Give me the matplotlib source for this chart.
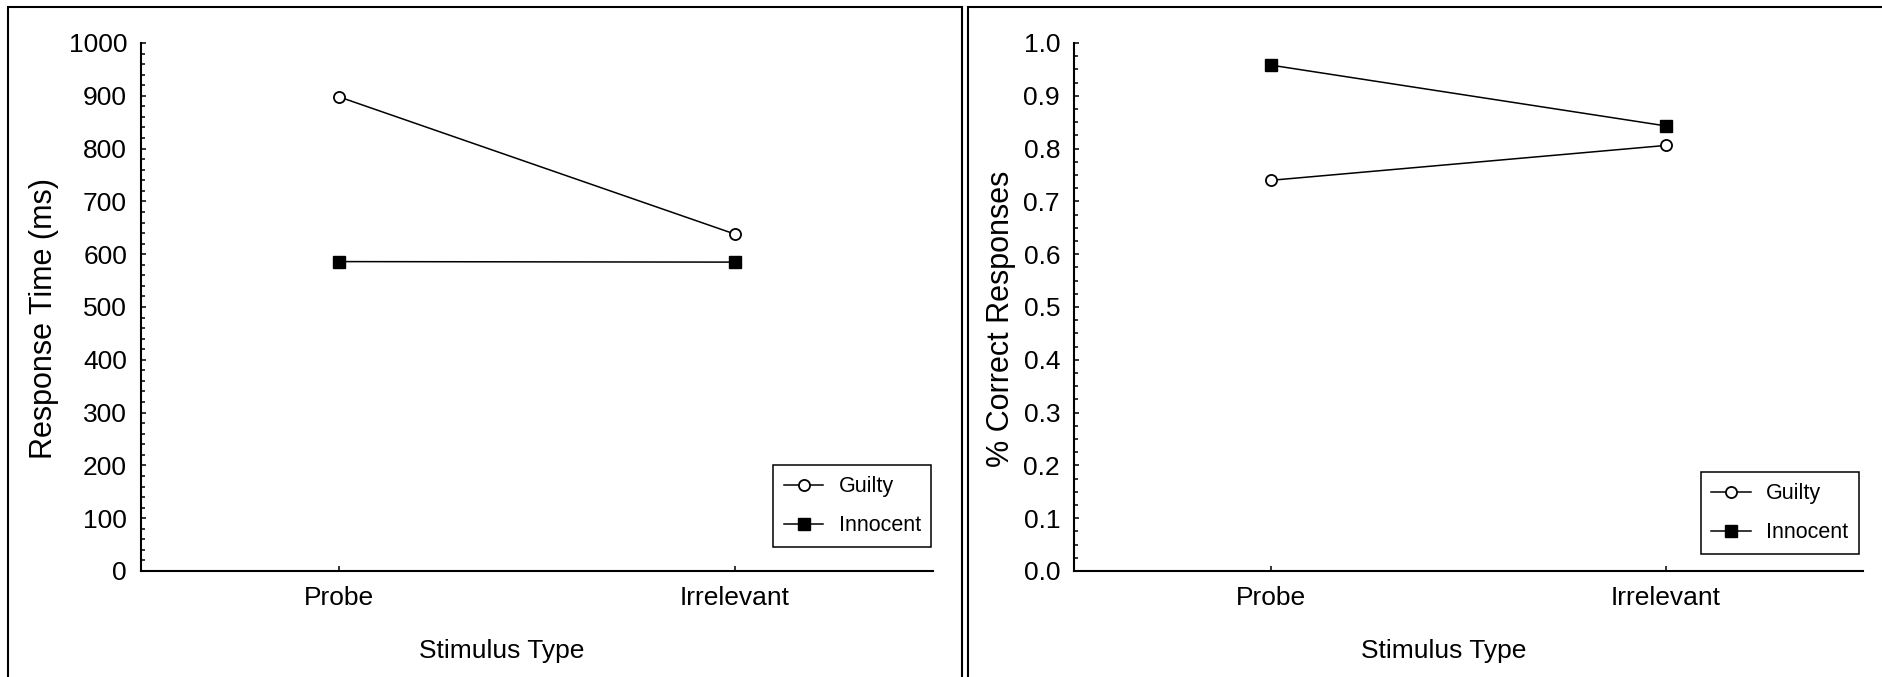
import matplotlib
matplotlib.use('Agg')
import matplotlib.pyplot as plt
import matplotlib.font_manager as font_manager
from matplotlib.patches import Rectangle
from matplotlib.ticker import MultipleLocator, FormatStrFormatter

################################################################################
## Data

CATEGORIES = ['Probe', 'Irrelevant']
GROUPS = ['Guilty', 'Innocent']

RT_GUILTY = [898, 638]
RT_INNOCENT = [586, 585]

ACC_GUILTY = [0.740, 0.806]
ACC_INNOCENT = [0.958, 0.843]

################################################################################
## Fonts

FONT_NAMES = {f.name for f in font_manager.fontManager.ttflist}
if 'Liberation Sans Narrow' in FONT_NAMES:
  FONT_H = 'Liberation Sans Narrow'
  SIZE_TICK, SIZE_XLABEL, SIZE_LEGEND = 21, 21, 18
else:
  FONT_H = 'Liberation Sans'
  SIZE_TICK, SIZE_XLABEL, SIZE_LEGEND = 19, 19, 15.5
FONT_V = 'Liberation Sans'
SIZE_YLABEL = 22

plt.rcParams['font.family'] = [FONT_H, 'DejaVu Sans']

## Marker styles
STYLE = {
  'Guilty': dict(marker='o', ms=8, mfc='white', mec='black', mew=1.3),
  'Innocent': dict(marker='s', ms=9, mfc='black', mec='black', mew=1.0),
}

################################################################################
## Functions

def draw_panel(ax, guilty, innocent, ylabel, ymax, major, minor, fmt,
               ylabel_x, xlabel_x, legend_xy):
  x = list(range(len(CATEGORIES)))
  ax.plot(x, guilty, color='black', lw=1.1, label='Guilty', **STYLE['Guilty'])
  ax.plot(x, innocent, color='black', lw=1.1, label='Innocent', **STYLE['Innocent'])

  ax.set_xlim(-0.5, len(CATEGORIES) - 0.5)
  ax.set_ylim(0, ymax)
  ax.set_xticks(x)
  ax.set_xticklabels(CATEGORIES, fontsize=SIZE_TICK)
  ax.yaxis.set_major_locator(MultipleLocator(major))
  ax.yaxis.set_minor_locator(MultipleLocator(minor))
  ax.yaxis.set_major_formatter(FormatStrFormatter(fmt))
  for lab in ax.get_yticklabels():
    lab.set_fontsize(SIZE_TICK)

  for side in ['top', 'right']:
    ax.spines[side].set_visible(False)
  for side in ['left', 'bottom']:
    ax.spines[side].set_linewidth(1.5)

  ax.tick_params(axis='y', which='major', direction='in', length=3.5, width=1.1, pad=10)
  ax.tick_params(axis='y', which='minor', direction='in', length=3.0, width=1.1)
  ax.tick_params(axis='x', which='major', direction='in', length=3.5, width=1.1, pad=11)
  ax.tick_params(axis='x', which='minor', bottom=False)

  ax.set_xlabel('Stimulus Type', fontsize=SIZE_XLABEL)
  ax.xaxis.set_label_coords(xlabel_x, -0.128)
  ax.set_ylabel(ylabel, fontsize=SIZE_YLABEL, family=FONT_V)
  ax.yaxis.set_label_coords(ylabel_x, 0.478)

  leg = ax.legend(loc='lower right', bbox_to_anchor=legend_xy, borderaxespad=0,
                  fontsize=SIZE_LEGEND, fancybox=False, edgecolor='black', framealpha=1,
                  borderpad=0.5, labelspacing=0.85, handlelength=1.85, handletextpad=0.7)
  leg.get_frame().set_linewidth(1.1)
  return

def main():
  W, H = 1883, 677
  fig = plt.figure(figsize=(W / 100, H / 100), dpi=100)

  ## Panel frames
  fig.add_artist(Rectangle((8 / W, -0.05), (962 - 8) / W, 1.05 - 7 / H, transform=fig.transFigure,
                           fill=False, edgecolor='black', lw=1.5))
  fig.add_artist(Rectangle((968 / W, -0.05), 0.1 + (W - 968) / W, 1.05 - 7 / H, transform=fig.transFigure,
                           fill=False, edgecolor='black', lw=1.5))

  bottom = 1 - 571 / H
  height = (571 - 43) / H
  ax_rt = fig.add_axes([141 / W, bottom, (933 - 141) / W, height])
  ax_acc = fig.add_axes([1074 / W, bottom, (1863 - 1074) / W, height])

  draw_panel(ax_rt, RT_GUILTY, RT_INNOCENT, 'Response Time (ms)', 1000, 100, 20, '%d',
             -0.1035, 0.456, (0.998, 0.045))
  draw_panel(ax_acc, ACC_GUILTY, ACC_INNOCENT, '% Correct Responses', 1.0, 0.1, 0.025, '%.1f',
             -0.0735, 0.468, (0.995, 0.032))

  fig.savefig('out.png', dpi=100)
  return

if __name__ == '__main__':
  main()
